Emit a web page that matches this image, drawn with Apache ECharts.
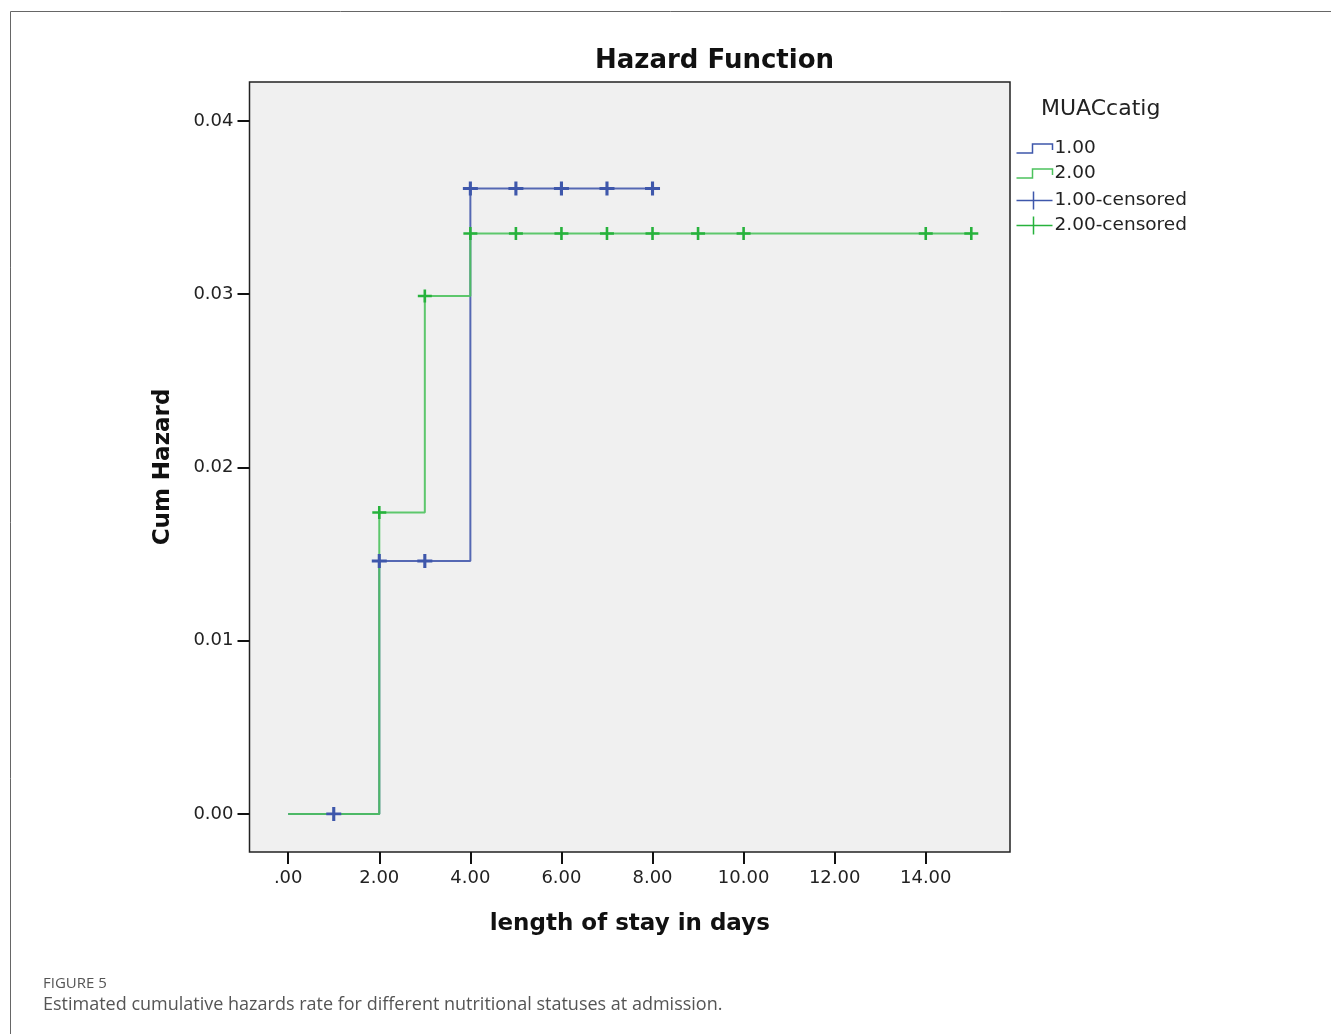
<!DOCTYPE html>
<html>
<head>
<meta charset="utf-8">
<script src="https://cdn.jsdelivr.net/npm/echarts@6/dist/echarts.min.js"></script>
<style>
  html, body { margin: 0; padding: 0; background: #fff; }
  #hazard { width: 1331px; height: 1034px; }
</style>
</head>
<body>
<div id="hazard"></div>
<script>
// valores
var xTicks = [0, 2, 4, 6, 8, 10, 12, 14];
var yTicks = [0, 0.01, 0.02, 0.03, 0.04];

var timesG1 = [0, 2, 4, 8];
var hazG1 = [0, 0.0146, 0.0361, 0.0361];
var timesG2 = [0, 2, 3, 4, 15];
var hazG2 = [0, 0.0174, 0.0299, 0.0335, 0.0335];

var censTimesG1 = [1, 2, 3, 4, 5, 6, 7, 8];
var censHazG1 = [0, 0.0146, 0.0146, 0.0361, 0.0361, 0.0361, 0.0361, 0.0361];
var censTimesG2 = [2, 3, 4, 5, 6, 7, 8, 9, 10, 14, 15];
var censHazG2 = [0.0174, 0.0299, 0.0335, 0.0335, 0.0335, 0.0335, 0.0335, 0.0335, 0.0335, 0.0335, 0.0335];

var legendNames = ['1.00', '2.00', '1.00-censored', '2.00-censored'];

var blue = '#3e57ab';
var green = '#27b23c';
var greenLine = '#4cc25d';

function pares(xs, ys) {
  return xs.map(function (x, i) { return [x, ys[i]]; });
}

var plusSymbol = 'path://M0 7 L14 7 M7 0 L7 14';
var stepIcon = 'path://M0 9 L16 9 L16 0 L36 0 L36 6';
var censIcon = 'path://M0 9 L36 9 M17 0 L17 18';

// uma legenda por linha, para acertar o espaçamento
function legenda(i, icon, cor, top) {
  return {
    orient: 'vertical',
    left: 1014,
    top: top,
    padding: 0,
    itemWidth: 36,
    itemHeight: 18,
    textStyle: { fontFamily: 'DejaVu Sans', fontSize: 18.5, color: '#222', padding: [0, 0, 0, -3] },
    data: [{ name: legendNames[i], icon: icon, itemStyle: { color: 'none', borderColor: cor, borderWidth: 1.5 } }]
  };
}

document.addEventListener('DOMContentLoaded', function()
{
  var chart = echarts.init(document.getElementById('hazard'));

  var option = {
    animation: false,
    title: [
      {
        text: 'Hazard Function',
        left: 590,
        top: 43,
        textStyle: { fontFamily: 'DejaVu Sans', fontSize: 26, fontWeight: 'bold', color: '#111' }
      },
      {
        text: 'MUACcatig',
        left: 1036,
        top: 93,
        textStyle: { fontFamily: 'DejaVu Sans', fontSize: 22, fontWeight: 'normal', color: '#222' }
      }
    ],
    legend: [
      legenda(0, stepIcon, blue, 139),
      legenda(1, stepIcon, greenLine, 164),
      legenda(2, censIcon, blue, 189),
      legenda(3, censIcon, green, 214)
    ],
    grid: {
      left: 249.5,
      right: 321,
      top: 82,
      bottom: 182,
      show: true,
      backgroundColor: '#f0f0f0',
      borderColor: '#222',
      borderWidth: 1.5
    },
    xAxis: {
      type: 'value',
      min: -0.85,
      max: 15.85,
      name: 'length of stay in days',
      nameLocation: 'middle',
      nameGap: 61,
      nameTextStyle: { fontFamily: 'DejaVu Sans', fontSize: 23, fontWeight: 'bold', color: '#111' },
      axisLine: { show: false, onZero: false },
      splitLine: { show: false },
      axisTick: { show: true, customValues: xTicks, length: 12, lineStyle: { color: '#111', width: 2 } },
      axisLabel: {
        customValues: xTicks,
        margin: 17,
        fontFamily: 'DejaVu Sans',
        fontSize: 18,
        color: '#222',
        formatter: function (v) { return v === 0 ? '.00' : v.toFixed(2); }
      }
    },
    yAxis: {
      type: 'value',
      min: -0.0022,
      max: 0.04225,
      name: 'Cum Hazard',
      nameLocation: 'middle',
      nameGap: 75,
      nameTextStyle: { fontFamily: 'DejaVu Sans', fontSize: 23, fontWeight: 'bold', color: '#111' },
      axisLine: { show: false, onZero: false },
      splitLine: { show: false },
      axisTick: { show: true, customValues: yTicks, length: 12, lineStyle: { color: '#111', width: 2 } },
      axisLabel: {
        customValues: yTicks,
        margin: 16,
        fontFamily: 'DejaVu Sans',
        fontSize: 18,
        color: '#222',
        formatter: function (v) { return v.toFixed(2); }
      }
    },
    series: [
      {
        name: '1.00',
        type: 'line',
        step: 'end',
        showSymbol: false,
        data: pares(timesG1, hazG1),
        lineStyle: { color: '#5568b3', width: 2 },
        itemStyle: { color: blue },
        z: 2
      },
      {
        name: '2.00',
        type: 'line',
        step: 'end',
        showSymbol: false,
        data: pares(timesG2, hazG2),
        lineStyle: { color: greenLine, width: 2, opacity: 0.9 },
        itemStyle: { color: green },
        z: 3
      },
      {
        name: '1.00-censored',
        type: 'scatter',
        symbol: plusSymbol,
        symbolSize: [15, 14],
        data: pares(censTimesG1, censHazG1),
        itemStyle: { color: 'none', borderColor: blue, borderWidth: 3, opacity: 1 },
        z: 4
      },
      {
        name: '2.00-censored',
        type: 'scatter',
        symbol: plusSymbol,
        symbolSize: [14, 13],
        data: pares(censTimesG2, censHazG2),
        itemStyle: { color: 'none', borderColor: green, borderWidth: 2.5, opacity: 1 },
        z: 5
      }
    ],
    graphic: [
      {
        type: 'polyline',
        shape: { points: [[10.5, 1034], [10.5, 11.5], [1331, 11.5]] },
        style: { stroke: '#666', lineWidth: 1, fill: 'none' },
        silent: true
      },
      {
        type: 'text',
        left: 43,
        top: 976,
        style: { text: 'FIGURE 5', fontFamily: 'Open Sans', fontSize: 15, fill: '#555' }
      },
      {
        type: 'text',
        left: 43,
        top: 996,
        style: { text: 'Estimated cumulative hazards rate for different nutritional statuses at admission.', fontFamily: 'Open Sans', fontSize: 18, fill: '#555' }
      }
    ]
  };

  chart.setOption(option);
});
</script>
</body>
</html>
